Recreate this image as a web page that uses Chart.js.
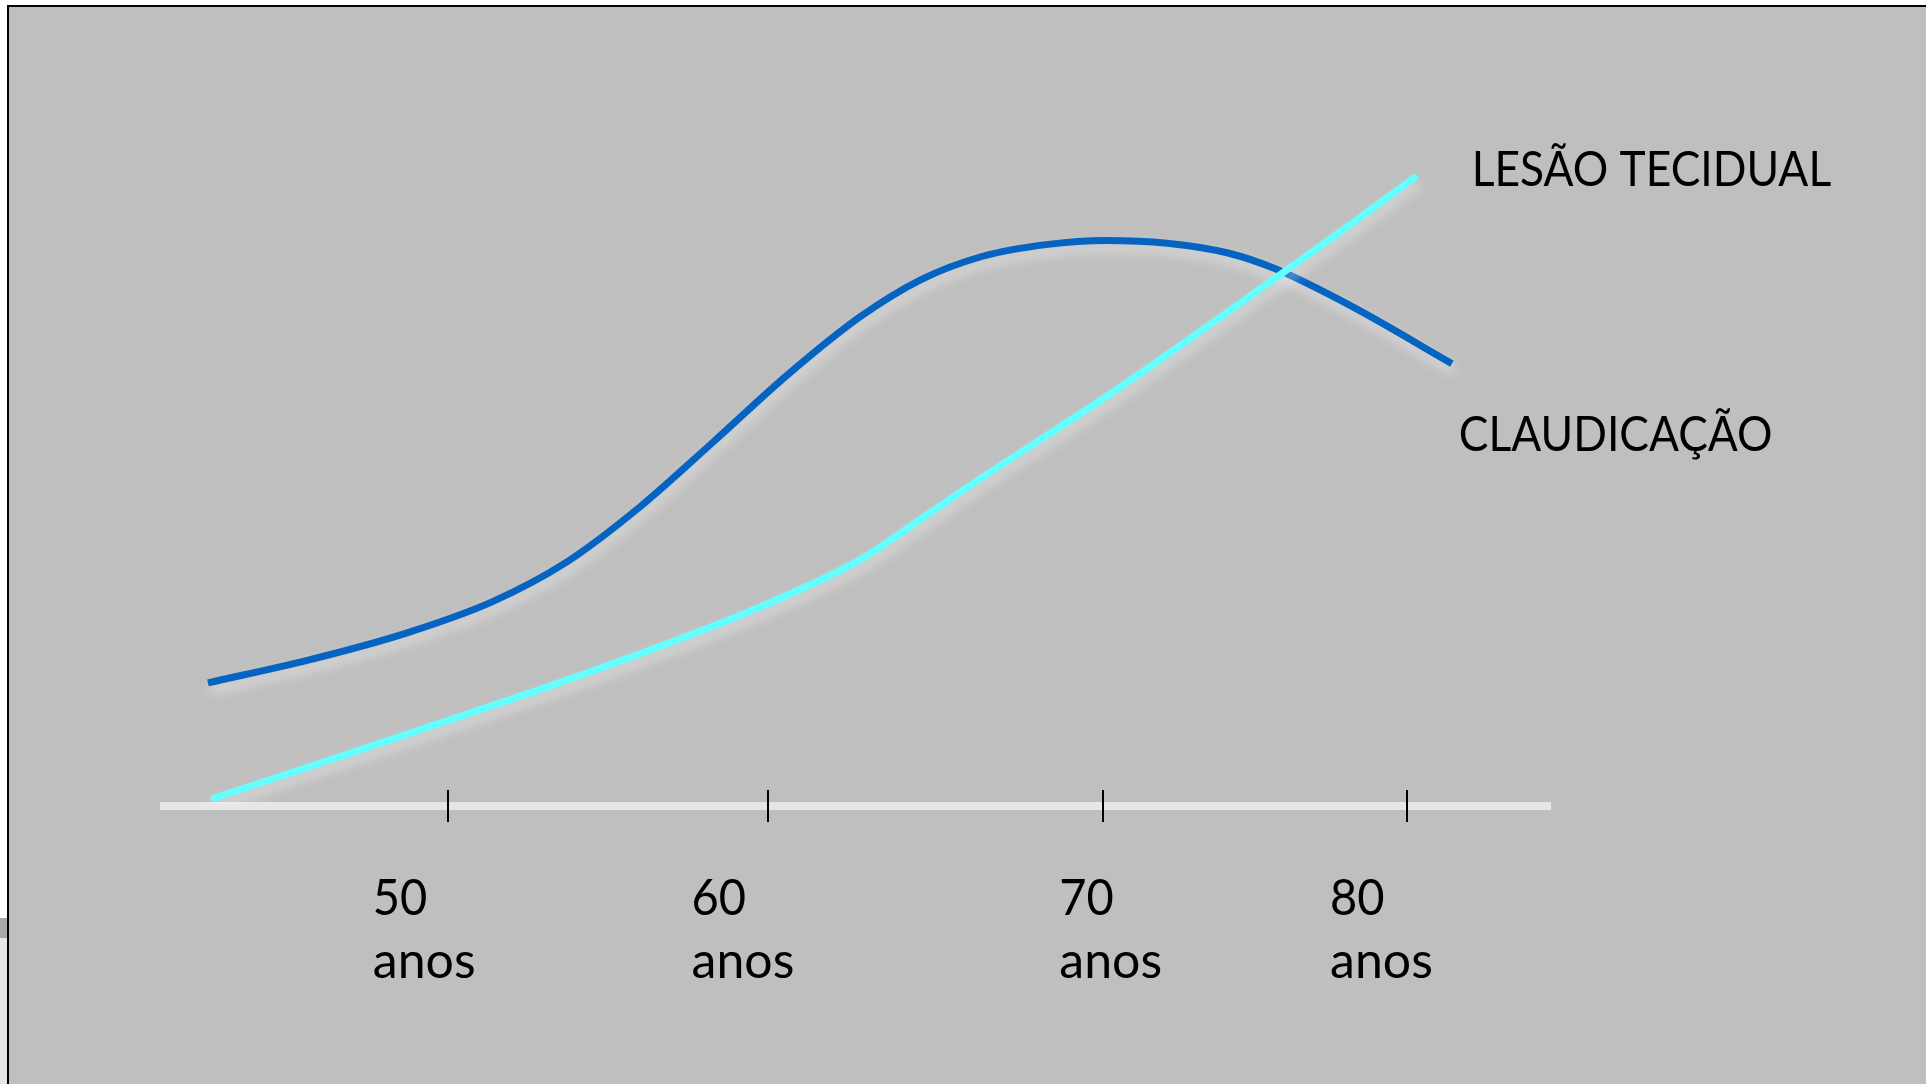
<!DOCTYPE html>
<html lang="pt">
<head>
<meta charset="utf-8">
<title>Claudicação e lesão tecidual por idade</title>
<script src="https://cdn.jsdelivr.net/npm/chart.js@4.4.1/dist/chart.umd.min.js"></script>
<style>
  html, body { margin: 0; padding: 0; background: #fff; width: 1926px; height: 1084px; overflow: hidden; }
  #faixa  { position: absolute; left: 0; top: 918px; width: 7px; height: 20px;  background: #a9a9ac; }
  #faixa2 { position: absolute; left: 0; top: 938px; width: 7px; height: 146px; background: #e6e6e6; }
  #quadro { position: absolute; left: 7px; top: 5px; width: 1919px; height: 1079px; box-sizing: border-box;
            border-left: 2px solid #000; border-top: 2px solid #000; background: #bfbfbf; }
  canvas { display: block; }
</style>
</head>
<body>
<div id="faixa"></div>
<div id="faixa2"></div>
<div id="quadro"><canvas id="grafico" width="1917" height="1077"></canvas></div>
<script>
// Curva da claudicação (idade em anos, intensidade relativa)
const idadeClaudicacao = [42.5, 45.6, 48.7, 51.4, 53.7, 56.0, 58.3, 60.6, 62.9, 64.8, 66.7, 68.7, 70.6, 72.5, 74.4, 75.9, 78.3, 81.4];
const valorClaudicacao = [17.6, 20.8, 24.7, 29.2, 34.8, 42.7, 52.0, 61.5, 69.9, 75.2, 78.5, 80.2, 80.8, 80.4, 79.0, 76.7, 71.3, 63.2];

// Curva da lesão tecidual
const idadeLesao = [42.6, 45.6, 49.4, 53.3, 57.1, 59.8, 62.9, 64.8, 66.7, 70.6, 74.4, 78.3, 80.3];
const valorLesao = [1.0, 5.5, 11.3, 17.3, 23.6, 28.5, 35.2, 41.0, 46.9, 58.5, 70.6, 83.3, 90.0];

// Marcas do eixo de idade e seus rótulos
const marcasIdade = [50, 60, 70.5, 80];
const rotulosIdade = [['50', 'anos'], ['60', 'anos'], ['70', 'anos'], ['80', 'anos']];

const nomeLesao = 'LESÃO TECIDUAL';
const nomeClaudicacao = 'CLAUDICAÇÃO';

const pontos = (xs, ys) => xs.map((x, i) => ({ x, y: ys[i] }));

const FAMILIA = 'Lato, "Open Sans", sans-serif';

// Brilho claro sob as linhas
const brilho = {
  id: 'brilho',
  beforeDatasetDraw(chart) {
    const ctx = chart.ctx;
    ctx.save();
    ctx.shadowColor = 'rgba(255,255,255,0.5)';
    ctx.shadowBlur = 12;
    ctx.shadowOffsetX = 2;
    ctx.shadowOffsetY = 7;
  },
  afterDatasetDraw(chart) {
    chart.ctx.restore();
  }
};

// Texto com leve compressão horizontal
function texto(ctx, s, x, y, escala) {
  ctx.save();
  ctx.translate(x, y);
  ctx.scale(escala, 1);
  ctx.fillText(s, 0, 0);
  ctx.restore();
}

// Eixo horizontal: faixa clara, marcas e rótulos em duas linhas
const eixoIdade = {
  id: 'eixoIdade',
  beforeDatasetsDraw(chart, args, opts) {
    const { ctx, scales: { x, y } } = chart;
    const y0 = y.getPixelForValue(0);
    const xl = x.getPixelForValue(x.min);
    const xr = x.getPixelForValue(x.max);
    ctx.save();
    ctx.fillStyle = opts.corEixo;
    ctx.fillRect(xl, y0 - 4, xr - xl, 8);
    ctx.strokeStyle = '#000';
    ctx.lineWidth = 2;
    marcasIdade.forEach(v => {
      const px = Math.round(x.getPixelForValue(v));
      ctx.beginPath();
      ctx.moveTo(px, y0 - 16);
      ctx.lineTo(px, y0 + 16);
      ctx.stroke();
    });
    ctx.fillStyle = '#000';
    ctx.font = '50px ' + FAMILIA;
    ctx.textAlign = 'left';
    ctx.textBaseline = 'alphabetic';
    marcasIdade.forEach((v, i) => {
      const px = x.getPixelForValue(v) + opts.deslocamentos[i];
      rotulosIdade[i].forEach((linha, j) => {
        texto(ctx, linha, px, y0 + opts.primeiraLinha + j * opts.entrelinha, j === 0 ? 0.94 : 1);
      });
    });
    ctx.restore();
  }
};

// Nome de cada curva junto ao seu último ponto
const nomesCurvas = {
  id: 'nomesCurvas',
  afterDraw(chart, args, opts) {
    const ctx = chart.ctx;
    ctx.save();
    ctx.fillStyle = '#000';
    ctx.font = '49px ' + FAMILIA;
    ctx.textAlign = 'left';
    ctx.textBaseline = 'alphabetic';
    chart.data.datasets.forEach((ds, i) => {
      const meta = chart.getDatasetMeta(i);
      const ultimo = meta.data[meta.data.length - 1];
      const d = opts.deslocamentos[i];
      texto(ctx, ds.label, ultimo.x + d[0], ultimo.y + d[1], opts.escala);
    });
    ctx.restore();
  }
};

new Chart(document.getElementById('grafico'), {
  type: 'line',
  data: {
    datasets: [
      {
        label: nomeLesao,
        data: pontos(idadeLesao, valorLesao),
        borderColor: '#66ffff',
        borderWidth: 7,
        pointRadius: 0,
        cubicInterpolationMode: 'monotone',
        order: 0
      },
      {
        label: nomeClaudicacao,
        data: pontos(idadeClaudicacao, valorClaudicacao),
        borderColor: '#0563c1',
        borderWidth: 7,
        pointRadius: 0,
        cubicInterpolationMode: 'monotone',
        order: 1
      }
    ]
  },
  options: {
    responsive: false,
    animation: false,
    devicePixelRatio: 1,
    layout: { padding: { left: 151, right: 375, top: 99, bottom: 278 } },
    scales: {
      x: { type: 'linear', min: 41, max: 84.5, display: false },
      y: { type: 'linear', min: 0, max: 100, display: false }
    },
    plugins: {
      legend: { display: false },
      tooltip: { enabled: false },
      eixoIdade: {
        corEixo: '#e6e6e6',
        deslocamentos: [-75, -76, -44, -77],
        primeiraLinha: 109,
        entrelinha: 63
      },
      nomesCurvas: {
        deslocamentos: [[55, 10], [7, 87]],
        escala: 0.905
      }
    }
  },
  plugins: [brilho, eixoIdade, nomesCurvas]
});
</script>
</body>
</html>
